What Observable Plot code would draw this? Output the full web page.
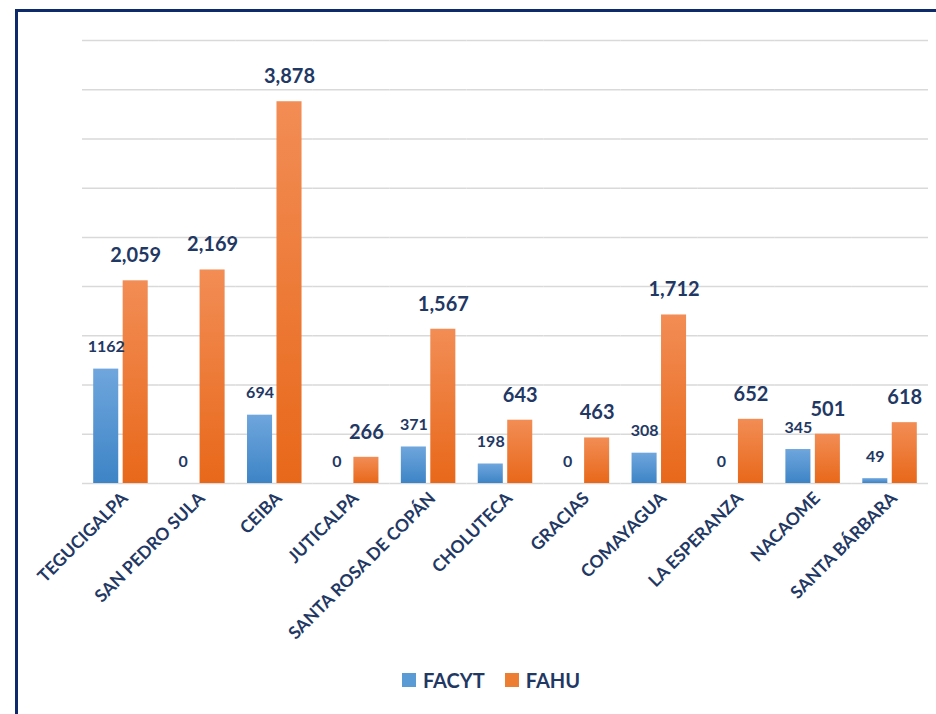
<!DOCTYPE html>
<html>
<head>
<meta charset="utf-8">
<script src="https://cdn.jsdelivr.net/npm/d3@7"></script>
<script src="https://cdn.jsdelivr.net/npm/@observablehq/plot@0.6"></script>
<style>
  html, body { margin: 0; padding: 0; background: #fff; width: 936px; height: 714px; overflow: hidden; }
  #frame { position: absolute; left: 15px; top: 9px; width: 1000px; height: 800px; border: 3px solid #0d2b6b; box-sizing: border-box; pointer-events: none; }
  #chart { position: absolute; left: 0; top: 0; }
  #legend { position: absolute; left: 0; top: 668px; width: 982px; display: flex; justify-content: center; align-items: center; font-family: Lato, "Open Sans", sans-serif; font-weight: bold; font-size: 20px; color: #1f3864; }
  .sw { display: inline-block; width: 14px; height: 14px; margin-right: 7px; }
  .item { display: flex; align-items: center; margin: 0 10px; }
</style>
</head>
<body>
<div id="chart"></div>
<div id="frame"></div>
<div id="legend"></div>
<script>
const categories = ["TEGUCIGALPA","SAN PEDRO SULA","CEIBA","JUTICALPA","SANTA ROSA DE COPÁN","CHOLUTECA","GRACIAS","COMAYAGUA","LA ESPERANZA","NACAOME","SANTA BÁRBARA"];
const series = ["FACYT","FAHU"];
const facyt = [1162,0,694,0,371,198,0,308,0,345,49];
const fahu = [2059,2169,3878,266,1567,643,463,1712,652,501,618];
const gridValues = [0,500,1000,1500,2000,2500,3000,3500,4000,4500];

const navy = "#1f3864";
const rows = [];
categories.forEach((c, i) => {
  rows.push({cat: c, serie: "FACYT", value: facyt[i], label: String(facyt[i])});
  rows.push({cat: c, serie: "FAHU", value: fahu[i], label: d3.format(",")(fahu[i])});
});
const fRows = rows.filter(d => d.serie === "FACYT");
const hRows = rows.filter(d => d.serie === "FAHU");

const chart = Plot.plot({
  width: 936,
  height: 650,
  marginTop: 40,
  marginBottom: 167,
  marginLeft: 82,
  marginRight: 8,
  style: {fontFamily: "Lato, 'Open Sans', sans-serif", background: "transparent", overflow: "visible"},
  fx: {domain: categories, padding: 0, round: false, label: null},
  x: {domain: series, paddingInner: 0.15, paddingOuter: 0.38, round: false, axis: null},
  y: {domain: [0, 4500], axis: null},
  marks: [
    Plot.ruleY(gridValues, {stroke: "#d9d9d9", strokeWidth: 1.5}),
    Plot.barY(fRows, {fx: "cat", x: "serie", y: "value", fill: "url(#gBlue)", style: "filter: drop-shadow(1px 1px 1.5px rgba(0,0,0,0.25))"}),
    Plot.barY(hRows, {fx: "cat", x: "serie", y: "value", fill: "url(#gOrange)", style: "filter: drop-shadow(1px 1px 1.5px rgba(0,0,0,0.25))"}),
    Plot.text(fRows, {fx: "cat", x: "serie", y: "value", text: "label", dy: -22, fontSize: 16, fontWeight: "bold", fill: navy}),
    Plot.text(hRows, {fx: "cat", x: "serie", y: "value", text: "label", dy: -25, fontSize: 20, fontWeight: "bold", fill: navy}),
    Plot.axisFx({anchor: "bottom", tickRotate: -45, tickSize: 0, tickPadding: 12, dx: 4, fontSize: 17.5, fontWeight: "bold", fill: navy, label: null})
  ]
});

const svg = d3.select(chart);
const defs = svg.insert("defs", ":first-child");
const gb = defs.append("linearGradient").attr("id", "gBlue").attr("x1", 0).attr("y1", 0).attr("x2", 0).attr("y2", 1);
gb.append("stop").attr("offset", "0%").attr("stop-color", "#6fa6dd");
gb.append("stop").attr("offset", "100%").attr("stop-color", "#3d84c6");
const go = defs.append("linearGradient").attr("id", "gOrange").attr("x1", 0).attr("y1", 0).attr("x2", 0).attr("y2", 1);
go.append("stop").attr("offset", "0%").attr("stop-color", "#f28d55");
go.append("stop").attr("offset", "100%").attr("stop-color", "#e8681a");

document.getElementById("chart").appendChild(chart);

const legend = document.getElementById("legend");
const legendColors = {FACYT: "#5b9bd5", FAHU: "#ed7d31"};
series.forEach(s => {
  const item = document.createElement("div");
  item.className = "item";
  item.innerHTML = `<span class="sw" style="background:${legendColors[s]}"></span><span>${s}</span>`;
  legend.appendChild(item);
});
</script>
</body>
</html>
